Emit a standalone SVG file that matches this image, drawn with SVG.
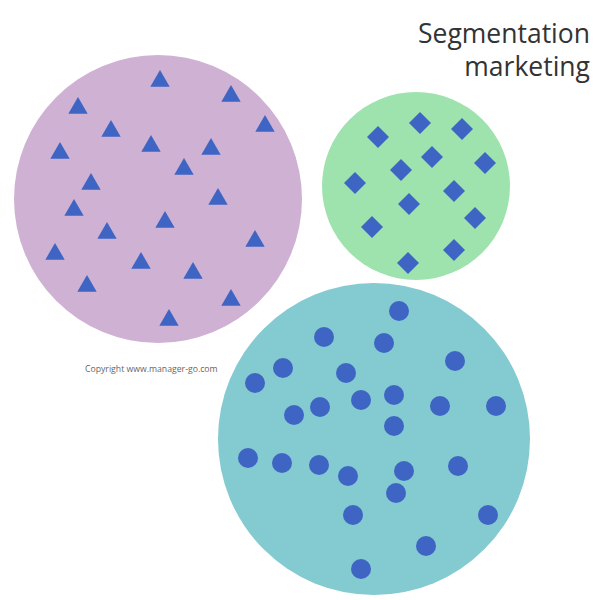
<svg xmlns="http://www.w3.org/2000/svg" xmlns:xlink="http://www.w3.org/1999/xlink" width="600" height="600" viewBox="0 0 600 600">
<style>
.title{font-family:"Open Sans","Noto Sans",sans-serif;font-size:26.5px;fill:#333333;text-anchor:end}
.copy{font-family:"Open Sans","Noto Sans",sans-serif;font-size:8.7px;fill:#666666}
.mark{fill:#3F65C4}
</style>
<defs>
<path id="tri" class="mark" d="M0,0 L9.7,16.7 L-9.7,16.7 Z"/>
<path id="dia" class="mark" d="M0,-11 L11,0 L0,11 L-11,0 Z"/>
<circle id="dot" class="mark" r="10"/>
</defs>
<rect width="600" height="600" fill="#ffffff"/>
<g id="title">
<text class="title" x="590" y="43">Segmentation</text>
<text class="title" x="590" y="76">marketing</text>
</g>
<g id="copyright"><text class="copy" x="85" y="372">Copyright www.manager-go.com</text></g>
<g id="segment-triangles">
<circle cx="158" cy="199" r="144" fill="#CFB1D3"/>
<use href="#tri" x="160" y="70"/>
<use href="#tri" x="231" y="85"/>
<use href="#tri" x="78" y="97"/>
<use href="#tri" x="265" y="115"/>
<use href="#tri" x="111" y="120"/>
<use href="#tri" x="60" y="142"/>
<use href="#tri" x="151" y="135"/>
<use href="#tri" x="211" y="138"/>
<use href="#tri" x="184" y="158"/>
<use href="#tri" x="91" y="173"/>
<use href="#tri" x="218" y="188"/>
<use href="#tri" x="74" y="199"/>
<use href="#tri" x="165" y="211"/>
<use href="#tri" x="107" y="222"/>
<use href="#tri" x="255" y="230"/>
<use href="#tri" x="55" y="243"/>
<use href="#tri" x="141" y="252"/>
<use href="#tri" x="193" y="262"/>
<use href="#tri" x="87" y="275"/>
<use href="#tri" x="231" y="289"/>
<use href="#tri" x="169" y="309"/>
</g>
<g id="segment-diamonds">
<circle cx="416" cy="186" r="94" fill="#9EE2AD"/>
<use href="#dia" x="378" y="137"/>
<use href="#dia" x="420" y="123"/>
<use href="#dia" x="462" y="129"/>
<use href="#dia" x="432" y="157"/>
<use href="#dia" x="401" y="170"/>
<use href="#dia" x="485" y="163"/>
<use href="#dia" x="355" y="183"/>
<use href="#dia" x="454" y="191"/>
<use href="#dia" x="409" y="204"/>
<use href="#dia" x="475" y="218"/>
<use href="#dia" x="372" y="227"/>
<use href="#dia" x="454" y="250"/>
<use href="#dia" x="408" y="263"/>
</g>
<g id="segment-dots">
<circle cx="374" cy="439" r="156" fill="#84CAD1"/>
<use href="#dot" x="399" y="311"/>
<use href="#dot" x="324" y="337"/>
<use href="#dot" x="384" y="343"/>
<use href="#dot" x="283" y="368"/>
<use href="#dot" x="455" y="361"/>
<use href="#dot" x="346" y="373"/>
<use href="#dot" x="255" y="383"/>
<use href="#dot" x="394" y="395"/>
<use href="#dot" x="361" y="400"/>
<use href="#dot" x="320" y="407"/>
<use href="#dot" x="294" y="415"/>
<use href="#dot" x="440" y="406"/>
<use href="#dot" x="496" y="406"/>
<use href="#dot" x="394" y="426"/>
<use href="#dot" x="248" y="458"/>
<use href="#dot" x="282" y="463"/>
<use href="#dot" x="319" y="465"/>
<use href="#dot" x="348" y="476"/>
<use href="#dot" x="404" y="471"/>
<use href="#dot" x="458" y="466"/>
<use href="#dot" x="396" y="493"/>
<use href="#dot" x="353" y="515"/>
<use href="#dot" x="488" y="515"/>
<use href="#dot" x="426" y="546"/>
<use href="#dot" x="361" y="569"/>
</g>
</svg>
